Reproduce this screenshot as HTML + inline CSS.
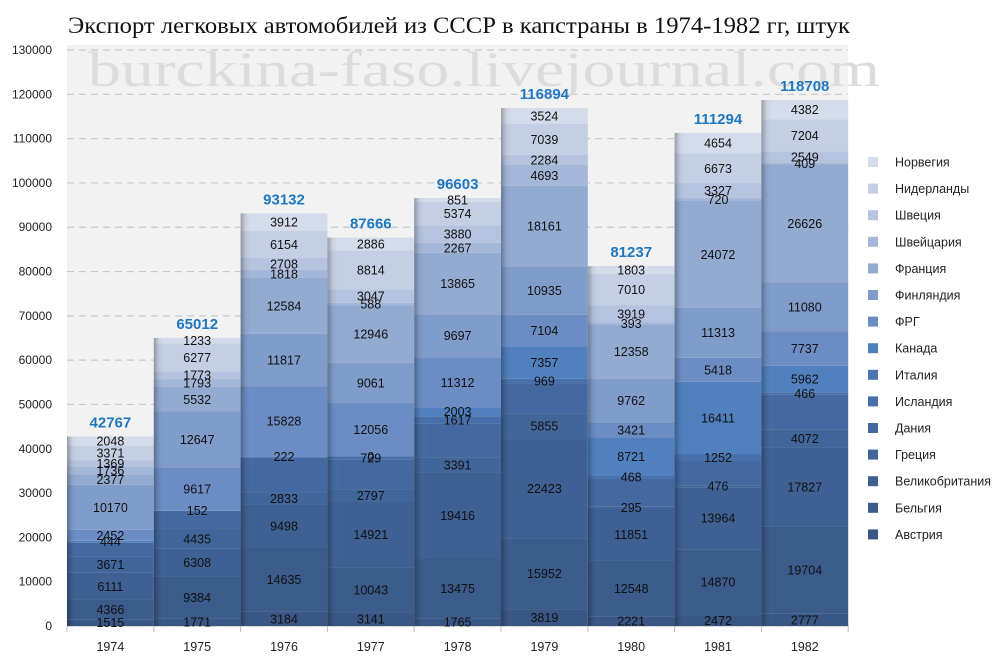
<!DOCTYPE html>
<html><head><meta charset="utf-8"><style>
body{margin:0;background:#fff;}
svg text{font-family:"Liberation Sans",sans-serif;}
</style></head><body>
<svg id="chart" width="1000" height="664" xmlns="http://www.w3.org/2000/svg">
<defs>
<linearGradient id="shade" x1="0" x2="1" y1="0" y2="0">
<stop offset="0" stop-color="#000" stop-opacity="0.28"/>
<stop offset="0.06" stop-color="#000" stop-opacity="0.05"/>
<stop offset="0.15" stop-color="#fff" stop-opacity="0"/>
<stop offset="1" stop-color="#fff" stop-opacity="0"/>
</linearGradient>
</defs>
<rect x="67" y="45" width="781" height="581" fill="#f2f2f2"/>
<text x="68" y="33" font-size="23" textLength="782" lengthAdjust="spacingAndGlyphs" fill="#111" style="font-family:'Liberation Serif','Noto Serif CJK SC',serif">Экспорт легковых автомобилей из СССР в капстраны в 1974-1982 гг, штук</text>
<g id="grid"></g>
<text x="88" y="86" font-size="50" textLength="792" lengthAdjust="spacingAndGlyphs" fill="#dcdcdc" style="font-family:'Liberation Serif',serif">burckina-faso.livejournal.com</text>
<g id="bars"></g>
<g id="legend"></g>
</svg>
<script>
const years = ["1974","1975","1976","1977","1978","1979","1980","1981","1982"];
const seriesNames = ["Австрия","Бельгия","Великобритания","Греция","Дания","Исландия","Италия","Канада","ФРГ","Финляндия","Франция","Швейцария","Швеция","Нидерланды","Норвегия"];
const totals = [42767,65012,93132,87666,96603,116894,81237,111294,118708];
const austria = [1515,1771,3184,3141,1765,3819,2221,2472,2777];
const belgium = [4366,9384,14635,10043,13475,15952,12548,14870,19704];
const uk = [6111,6308,9498,14921,19416,22423,11851,13964,17827];
const greece = [3671,4435,2833,2797,3391,5855,295,476,4072];
const denmark = [3137,4090,7939,6637,7690,6779,6467,5672,7913];
const iceland = [null,null,null,729,1617,969,468,1252,466];
const italy = [0,0,0,0,0,0,0,0,0];
const canada = [444,152,222,0,2003,7357,8721,16411,5962];
const frg = [2452,9617,15828,12056,11312,7104,3421,5418,7737];
const finland = [10170,12647,11817,9061,9697,10935,9762,11313,11080];
const france = [2377,5532,12584,12946,13865,18161,12358,24072,26626];
const swiss = [1736,1793,1818,588,2267,4693,393,720,409];
const sweden = [1369,1773,2708,3047,3880,2284,3919,3327,2549];
const netherlands = [3371,6277,6154,8814,5374,7039,7010,6673,7204];
const norway = [2048,1233,3912,2886,851,3524,1803,4654,4382];
const allSeries = [austria,belgium,uk,greece,denmark,iceland,italy,canada,frg,finland,france,swiss,sweden,netherlands,norway];
const hiddenLabel = [false,false,false,false,true,false,true,false,false,false,false,false,false,false,false];
const yTicks = [0,10000,20000,30000,40000,50000,60000,70000,80000,90000,100000,110000,120000,130000];
const colors = ["#395684","#3b5b8a","#3e6092","#41669a","#4469a1","#476fa9","#4a75b2","#5080be","#6b8dc4","#7f9cca","#93aad1","#a5b7d8","#b5c3de","#c5cfe4","#d4dbea"];
const NS="http://www.w3.org/2000/svg";
const X0=67, CW=86.8, Y0=626, YMAX=130000, PH=576;
function yS(v){return Y0 - v/YMAX*PH;}
function xS(i){return X0 + i*CW;}
function mk(tag,attrs,parent){const e=document.createElementNS(NS,tag);for(const k in attrs)e.setAttribute(k,attrs[k]);parent.appendChild(e);return e;}
const grid=document.getElementById('grid');
yTicks.forEach(t=>{
  const y=yS(t);
  const l=mk('line',{x1:X0,x2:X0+9*CW,y1:y,y2:y,stroke:'#c8c8c8','stroke-dasharray':'7,5','stroke-width':1.2},grid);
  
  
  const tx=mk('text',{x:52,y:y+4,'font-size':12,'text-anchor':'end',fill:'#222'},grid);
  tx.textContent=t;
  
  
});
mk('line',{x1:X0,x2:X0+9*CW,y1:Y0,y2:Y0,stroke:'#bbb'},grid);
const bars=document.getElementById('bars');
years.forEach((yr,i)=>{
  const g=mk('g',{},bars);
  
  
  let cum=0;
  const x=xS(i);
  allSeries.forEach((s,k)=>{
    const v=s[i]||0;
    const y1=yS(cum), y2=yS(cum+v);
    const r=mk('rect',{x:x,y:y2,width:CW,height:Math.max(0,y1-y2),fill:colors[k]},g);
    
    
    cum+=v;
  });
  mk('rect',{x:x,y:yS(cum),width:CW,height:Y0-yS(cum),fill:'url(#shade)'},g);
  cum=0;
  allSeries.forEach((s,k)=>{
    const v=s[i];
    if(v!==null && !hiddenLabel[k]){
      const t=mk('text',{x:x+CW/2,y:(yS(cum)+yS(cum+v))/2+4.5,'font-size':12.5,'text-anchor':'middle',fill:'#111'},g);
      t.textContent=v;
      
      
    }
    cum+=(v||0);
  });
  const tt=mk('text',{x:x+CW/2,y:yS(totals[i])-9,'font-size':15,'font-weight':'bold','text-anchor':'middle',fill:'#1f77c0'},g);
  tt.textContent=totals[i];
  
  
  const xl=mk('text',{x:x+CW/2,y:651,'font-size':12.5,'text-anchor':'middle',fill:'#222'},g);
  xl.textContent=yr;
  
  
  mk('line',{x1:x,x2:x,y1:Y0,y2:Y0+6,stroke:'#bbb'},g);
});
mk('line',{x1:xS(9),x2:xS(9),y1:Y0,y2:Y0+6,stroke:'#bbb'},bars);
const lg=document.getElementById('legend');
for(let k=14;k>=0;k--){
  const row=14-k, y=162+row*26.6;
  const g=mk('g',{},lg);
  
  
  mk('rect',{x:868,y:y-5,width:10,height:10,fill:colors[k]},g);
  const t=mk('text',{x:895,y:y+4.5,'font-size':12.5,fill:'#222'},g);
  t.textContent=seriesNames[k];
}
</script>
</body></html>
